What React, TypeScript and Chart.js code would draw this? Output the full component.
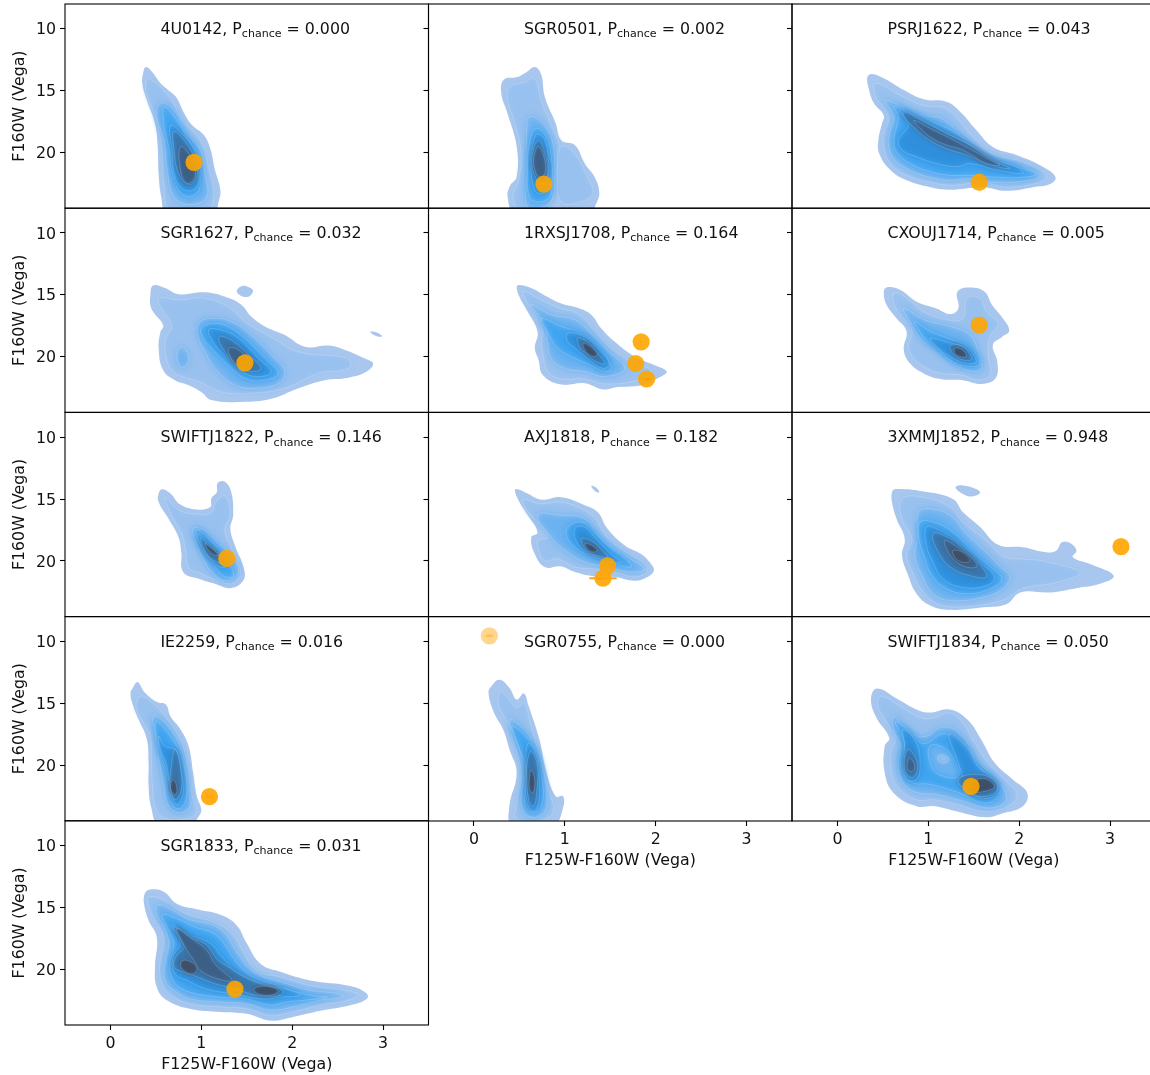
import React, { useEffect, useRef } from "react";
import { Chart, registerables } from "chart.js";

Chart.register(...registerables);

type Contour = [number, number[], number[]];

const xTickValues = [0, 1, 2, 3];
const yTickValues = [10, 15, 20];
const xTitle = "F125W-F160W (Vega)";
const yTitle = "F160W (Vega)";
const xRange = [-0.5, 3.5];
const yRange = [8, 24.5];
const labelAnchor = [0.55, 10];

const names = ["4U0142", "SGR0501", "PSRJ1622", "SGR1627", "1RXSJ1708", "CXOUJ1714", "SWIFTJ1822", "AXJ1818", "3XMMJ1852", "IE2259", "SGR0755", "SWIFTJ1834", "SGR1833"];
const pChance = ["0.000", "0.002", "0.043", "0.032", "0.164", "0.005", "0.146", "0.182", "0.948", "0.016", "0.000", "0.050", "0.031"];

const pointsX = [[0.92], [0.77], [1.56], [1.48], [1.84, 1.78, 1.90], [1.56], [1.28], [1.47, 1.42], [3.12], [1.09], [0.17], [1.47], [1.37]];
const pointsY = [[20.8], [22.55], [22.4], [20.5], [18.8, 20.55, 21.8], [17.45], [19.8], [20.4, 21.4], [18.85], [22.55], [9.55], [21.7], [21.6]];
const pointsErrX = [[0.01], [0.05], [0.02], [0.01], [0.01, 0.02, 0.05], [0.01], [0.01], [0.03, 0.15], [0.01], [0.04], [0.04], [0.01], [0.05]];
const pointAlpha = [0.9, 0.9, 0.9, 0.9, 0.9, 0.9, 0.9, 0.9, 0.9, 0.9, 0.45, 0.9, 0.9];

const levelColors = ["#a9c7ee", "#98c1ef", "#6cb2f0", "#3fa5f1", "#2f8fdc", "#3a74a8", "#3d5f86", "#3e4f68"];

const contours4U0142: Contour[] = [
  [0, [0.39,0.46,0.55,0.66,0.73,0.81,0.90,1.03,1.10,1.15,1.21,1.19,1.14,0.62,0.56,0.53,0.52,0.49,0.40,0.35,0.36], [13.1,13.5,14.4,15.1,15.6,16.8,17.8,18.6,19.7,21.4,23.05,24.0,24.8,24.8,23.6,21.7,19.5,17.65,15.75,14.4,13.6]],
  [1, [0.42,0.66,0.79,0.99,1.08,1.14,1.06,0.66,0.59,0.56,0.51,0.42,0.385], [14.0,15.6,17.4,19.0,21.2,23.3,24.8,24.8,22.8,19.5,17.4,15.75,14.7]],
  [2, [0.55,0.70,0.84,0.99,1.04,1.06,0.88,0.70,0.62,0.59,0.51], [16.0,16.6,18.5,19.8,21.7,23.6,24.2,23.6,21.2,19.0,17.1]],
  [3, [0.59,0.73,0.86,0.97,0.99,0.95,0.82,0.70,0.64,0.59], [16.3,17.4,19.0,20.35,22.2,23.3,23.5,22.2,19.5,17.9]],
  [4, [0.66,0.79,0.92,0.97,0.95,0.82,0.71,0.68], [17.8,18.5,19.8,21.4,22.8,23.05,22.0,19.8]],
  [5, [0.70,0.84,0.93,0.95,0.86,0.75,0.70], [18.3,19.3,20.6,22.0,22.6,21.7,19.8]],
  [6, [0.77,0.90,0.93,0.84,0.77], [19.5,20.6,22.0,22.5,21.4]],
];
const contoursSGR0501: Contour[] = [
  [0, [0.67,0.74,0.78,0.90,0.96,1.11,1.22,1.33,1.38,1.34,1.29,0.45,0.37,0.40,0.47,0.47,0.37,0.30,0.33,0.48,0.58], [13.1,13.7,15.5,17.65,19.0,19.4,20.9,22.0,23.3,24.2,24.8,24.8,23.6,22.65,22.0,19.5,16.85,15.2,14.1,13.9,13.5]],
  [1, [0.67,0.74,0.87,0.94,0.87,0.85,0.78,0.52,0.43,0.49,0.52,0.45,0.37,0.39,0.56], [14.0,15.8,18.1,19.5,22.8,24.1,24.8,24.8,23.6,22.2,20.1,17.65,15.75,14.7,14.3]],
  [1, [0.96,1.11,1.25,1.31,1.22,0.96,0.92], [19.5,20.1,22.0,23.2,23.9,24.0,21.7]],
  [2, [0.61,0.76,0.87,0.88,0.87,0.76,0.59,0.58,0.58,0.58], [17.1,17.65,19.3,21.7,23.6,24.4,24.4,22.2,19.8,18.2]],
  [3, [0.68,0.79,0.85,0.86,0.83,0.72,0.61,0.59,0.61], [18.05,18.7,20.35,22.5,23.6,24.0,23.6,21.2,19.3]],
  [4, [0.70,0.78,0.82,0.81,0.76,0.67,0.63,0.65], [18.5,19.0,20.6,22.2,23.3,23.05,21.2,19.3]],
  [5, [0.71,0.78,0.81,0.74,0.66,0.64], [19.0,20.1,21.7,22.5,21.7,20.35]],
  [6, [0.71,0.78,0.78,0.72,0.67,0.66], [19.5,20.6,21.7,22.0,21.4,20.35]],
];
const contoursPSRJ1622: Contour[] = [
  [0, [0.38,0.51,0.73,0.95,1.20,1.35,1.53,1.71,1.97,2.26,2.40,2.34,2.15,1.86,1.60,1.24,1.02,0.76,0.58,0.46,0.45,0.49,0.51,0.40,0.34,0.33], [13.65,14.0,14.95,15.7,15.9,16.7,18.2,19.55,20.2,21.15,22.0,22.55,22.8,23.1,22.8,23.0,22.8,22.25,21.4,20.1,19.0,17.65,17.0,16.0,14.7,13.9]],
  [1, [0.42,0.73,0.95,1.20,1.49,1.71,2.04,2.30,2.23,1.86,1.60,1.24,1.02,0.76,0.58,0.51,0.51,0.56,0.52,0.42], [14.4,15.5,16.2,16.45,18.7,20.1,20.75,21.85,22.4,22.8,22.45,22.65,22.4,21.85,20.9,19.55,18.45,17.4,16.45,15.5]],
  [2, [0.52,0.73,0.95,1.16,1.46,1.68,2.04,2.23,2.12,1.75,1.46,1.24,1.02,0.80,0.62,0.56,0.58,0.62], [15.8,16.35,17.0,17.3,19.4,20.35,21.15,21.85,22.25,22.4,22.1,22.25,22.0,21.45,20.5,19.3,18.2,17.1]],
  [3, [0.62,0.84,1.09,1.31,1.53,1.75,2.04,2.19,2.04,1.75,1.46,1.24,1.02,0.80,0.65,0.62,0.65,0.67], [16.3,16.85,17.65,18.45,19.8,20.6,21.3,21.75,22.0,22.0,21.85,21.85,21.55,20.9,19.95,19.0,17.9,17.0]],
  [4, [0.69,0.95,1.20,1.42,1.68,1.97,2.04,1.75,1.46,1.31,1.09,0.87,0.71,0.67,0.74,0.78], [16.55,17.4,18.45,19.25,20.5,21.15,21.7,21.4,20.9,21.15,20.9,20.35,19.8,19.0,18.3,17.8]],
  [5, [0.73,0.95,1.20,1.46,1.71,1.90,1.68,1.42,1.20,0.98,0.85,0.74], [16.7,17.5,18.45,19.4,20.6,21.3,21.0,20.2,19.7,18.85,18.05,17.2]],
  [6, [0.84,1.02,1.24,1.42,1.68,1.79,1.64,1.38,1.20,1.04,0.91], [17.4,18.05,18.85,19.55,20.6,21.0,20.9,19.8,19.4,18.85,18.05]],
];
const contoursSGR1627: Contour[] = [
  [0, [0.47,0.60,0.75,1.04,1.30,1.44,1.55,1.70,1.92,2.14,2.40,2.58,2.80,2.89,2.82,2.62,2.36,2.07,1.77,1.44,1.11,1.00,0.86,0.71,0.58,0.53,0.55,0.58,0.45,0.44], [14.25,14.45,14.95,14.8,15.25,15.8,16.75,17.55,18.25,19.2,19.1,19.45,20.15,20.55,21.2,21.7,21.9,22.55,23.4,23.65,23.5,22.85,22.3,21.9,21.1,19.3,18.0,17.45,16.1,15.0]],
  [0, [1.39,1.44,1.53,1.57,1.52,1.43], [14.7,14.3,14.4,14.7,15.15,15.05]],
  [0, [2.86,2.93,2.99,2.93], [18.0,18.05,18.35,18.35]],
  [1, [0.53,0.75,1.04,1.33,1.48,1.77,2.07,2.62,2.62,2.29,1.92,1.55,1.22,0.97,0.75,0.64,0.60,0.67,0.58], [15.27,15.4,15.27,16.1,17.15,18.4,19.6,20.15,20.95,21.35,22.55,22.95,22.85,22.0,21.5,20.7,18.8,17.45,16.35]],
  [2, [0.73,0.78,0.86,0.84,0.77], [19.9,19.2,19.9,20.7,20.85]],
  [2, [0.97,1.11,1.33,1.55,1.81,1.92,1.85,1.59,1.37,1.15,1.04,0.97], [17.3,16.9,17.15,18.25,20.15,21.2,22.15,22.55,22.3,20.95,19.6,18.5]],
  [3, [1.0,1.15,1.33,1.52,1.74,1.85,1.70,1.48,1.30,1.11,1.02], [17.7,17.3,17.7,18.8,20.4,21.35,21.9,21.75,20.7,19.3,18.5]],
  [4, [1.08,1.22,1.41,1.63,1.77,1.66,1.48,1.30,1.15], [17.85,17.85,18.5,20.15,21.2,21.6,21.35,20.15,19.05]],
  [5, [1.19,1.33,1.52,1.66,1.55,1.41,1.26], [18.4,18.65,19.85,20.95,21.2,20.7,19.6]],
  [6, [1.30,1.41,1.53,1.44,1.33], [19.3,19.45,20.55,20.95,20.15]],
];
const contours1RXSJ1708: Contour[] = [
  [0, [0.49,0.63,0.78,0.96,1.14,1.29,1.40,1.55,1.77,1.99,2.12,2.06,1.84,1.58,1.42,1.22,0.96,0.76,0.71,0.67,0.70,0.59,0.50,0.47], [14.2,14.45,15.05,15.7,16.05,16.6,17.7,18.8,20.0,20.7,21.2,21.6,22.3,22.45,22.65,22.15,22.25,21.5,20.25,19.3,18.0,16.35,15.15,14.45]],
  [1, [0.54,0.78,0.96,1.14,1.33,1.47,1.73,1.95,1.80,1.44,1.22,0.96,0.81,0.76,0.74,0.76,0.67,0.58], [14.7,15.55,16.1,16.5,17.85,19.05,20.4,21.1,21.9,22.2,21.8,21.8,21.2,19.85,18.8,17.85,16.6,15.55]],
  [2, [0.63,0.85,1.11,1.29,1.44,1.66,1.44,1.22,1.0,0.85,0.81,0.78], [15.8,16.6,17.0,18.1,19.3,20.95,21.6,21.2,20.95,20.15,18.8,17.45]],
  [3, [0.74,0.96,1.18,1.36,1.51,1.47,1.29,1.07,0.92,0.81], [16.9,17.55,18.1,19.05,20.7,21.2,20.7,20.0,19.3,18.0]],
  [4, [1.03,1.22,1.36,1.49,1.42,1.25,1.11,1.03], [18.1,18.4,19.3,20.55,20.95,20.15,19.3,18.8]],
  [5, [1.14,1.25,1.36,1.44,1.34,1.23,1.16], [18.5,18.8,19.7,20.55,20.4,19.7,19.2]],
  [7, [1.20,1.29,1.36,1.31,1.23], [18.9,19.2,19.85,20.0,19.6]],
];
const contoursCXOUJ1714: Contour[] = [
  [0, [0.54,0.69,0.87,1.09,1.24,1.33,1.32,1.46,1.62,1.70,1.82,1.89,1.81,1.71,1.76,1.74,1.59,1.38,1.13,0.95,0.80,0.73,0.76,0.65,0.54,0.51], [14.4,14.6,15.55,16.1,16.55,16.1,14.75,14.4,14.75,15.8,16.9,17.9,18.4,19.05,20.4,21.75,22.2,21.9,21.8,21.35,20.55,19.45,17.95,16.9,15.8,14.85]],
  [1, [0.62,0.74,0.95,1.21,1.38,1.42,1.57,1.64,1.77,1.68,1.66,1.68,1.53,1.38,1.13,0.95,0.84,0.78,0.82,0.69,0.62], [14.86,15.14,16.35,17.0,16.9,15.27,15.27,16.35,17.3,18.4,19.85,21.5,21.9,21.5,21.35,20.8,20.15,19.2,17.85,16.6,15.7]],
  [2, [0.73,0.95,1.24,1.46,1.55,1.59,1.53,1.31,1.13,0.95,0.84], [16.1,17.0,17.55,18.25,19.6,20.8,21.2,20.7,19.6,18.8,17.7]],
  [3, [0.85,1.02,1.27,1.46,1.57,1.48,1.27,1.09,0.95], [17.15,17.95,18.65,19.3,20.55,20.8,20.4,19.3,18.4]],
  [4, [1.02,1.24,1.42,1.53,1.42,1.24,1.09], [18.5,18.9,19.3,20.4,20.55,20.0,19.2]],
  [5, [1.24,1.38,1.48,1.40,1.27], [19.05,19.2,20.15,20.3,19.75]],
  [7, [1.29,1.38,1.42,1.35,1.29], [19.3,19.45,20.0,20.0,19.75]],
];
const contoursSWIFTJ1822: Contour[] = [
  [0, [0.57,0.66,0.77,0.95,1.10,1.11,1.17,1.18,1.26,1.33,1.35,1.32,1.37,1.47,1.46,1.32,1.15,0.97,0.80,0.78,0.75,0.64,0.53,0.53], [14.2,14.55,15.45,15.85,15.65,14.95,14.45,13.7,13.6,14.45,16.3,17.4,18.75,20.65,21.6,22.2,21.85,21.45,20.9,19.3,18.1,16.6,15.25,14.55]],
  [1, [0.60,0.77,0.97,1.11,1.15,1.26,1.32,1.26,1.32,1.43,1.41,1.30,0.97,0.86,0.82,0.78,0.67], [14.85,15.95,16.2,16.1,15.3,14.75,16.3,17.4,18.75,20.65,21.45,21.85,20.95,20.55,18.95,17.75,16.3]],
  [2, [0.91,1.04,1.19,1.33,1.41,1.26,1.11,1.04,0.97], [17.4,17.55,18.6,19.55,20.9,21.6,20.9,20.1,19.0]],
  [3, [0.95,1.04,1.19,1.30,1.35,1.24,1.11,1.02,0.95], [17.45,17.95,19.0,20.1,21.2,21.2,20.0,19.05,18.1]],
  [4, [0.97,1.08,1.21,1.28,1.21,1.10,1.0], [17.8,18.6,19.45,20.4,20.5,19.85,18.9]],
  [5, [0.99,1.08,1.19,1.24,1.17,1.06], [18.1,18.75,19.45,20.1,20.1,19.45]],
  [7, [1.04,1.13,1.19,1.11], [18.6,19.05,19.55,19.4]],
];
const contoursAXJ1818: Contour[] = [
  [0, [0.48,0.59,0.74,0.96,1.22,1.36,1.47,1.66,1.84,1.95,1.98,1.91,1.77,1.55,1.33,1.11,0.96,0.78,0.67,0.63,0.70,0.59,0.49,0.45], [14.2,14.55,15.05,14.85,15.5,16.05,17.4,18.75,19.45,20.25,20.8,21.3,21.6,21.3,21.25,20.9,20.45,20.5,19.45,18.1,17.7,16.3,15.1,14.3]],
  [0, [1.29,1.34,1.38,1.34], [13.95,14.05,14.45,14.4]],
  [1, [0.54,0.74,0.96,1.22,1.34,1.44,1.62,1.84,1.91,1.77,1.55,1.33,1.11,0.92,0.78,0.72,0.70,0.81,0.70,0.58], [15.03,15.38,15.24,15.92,16.6,17.8,19.03,20.0,20.8,21.3,20.9,20.65,20.5,19.84,20.0,19.3,18.35,18.08,16.86,15.92]],
  [2, [0.70,0.96,1.22,1.40,1.66,1.88,1.73,1.47,1.22,1.0,0.85], [16.3,16.3,16.6,18.2,19.55,20.65,20.9,20.5,20.1,19.15,18.1]],
  [3, [1.03,1.18,1.33,1.47,1.69,1.73,1.55,1.33,1.14,1.03], [17.3,16.85,17.7,18.75,19.95,20.5,20.25,19.7,19.05,18.2]],
  [4, [1.11,1.22,1.36,1.51,1.62,1.47,1.29,1.14], [17.4,17.25,18.35,19.45,20.1,20.0,19.45,18.6]],
  [5, [1.18,1.29,1.40,1.47,1.34,1.23], [18.2,18.35,19.05,19.7,19.55,19.05]],
  [7, [1.22,1.29,1.36,1.31,1.25], [18.6,18.7,19.15,19.3,19.05]],
];
const contours3XMMJ1852: Contour[] = [
  [0, [0.63,0.95,1.27,1.38,1.57,1.77,2.04,2.30,2.41,2.47,2.56,2.63,2.59,2.78,3.04,2.89,2.63,2.34,2.01,1.86,1.60,1.24,1.02,0.87,0.78,0.71,0.74,0.65,0.60,0.60], [14.2,14.4,15.0,16.05,17.25,18.7,18.9,19.3,19.15,18.5,18.55,19.15,19.7,20.25,21.2,21.85,22.2,22.55,22.55,23.5,23.75,23.95,23.6,22.65,21.2,19.55,18.2,16.6,15.25,14.45]],
  [0, [1.30,1.38,1.53,1.57,1.48,1.37], [14.05,13.9,14.2,14.5,14.8,14.55]],
  [1, [0.71,0.95,1.24,1.38,1.64,1.82,2.04,2.26,2.67,2.41,2.04,1.86,1.60,1.24,1.05,0.91,0.82,0.76,0.82,0.71], [15.0,14.85,15.65,16.85,18.35,19.6,19.85,20.0,20.95,21.75,22.25,23.05,23.55,23.7,23.3,22.2,20.85,19.5,18.3,16.6]],
  [2, [0.89,1.02,1.24,1.42,1.64,1.82,1.90,1.82,1.60,1.24,1.05,0.93,0.85,0.89], [16.05,15.8,16.3,17.8,19.3,20.65,21.2,22.25,22.95,23.2,22.65,21.2,19.55,17.95]],
  [3, [0.91,1.05,1.27,1.49,1.71,1.81,1.68,1.42,1.20,1.04,0.95,0.89], [16.85,16.85,17.65,19.3,20.65,21.45,22.25,22.65,22.25,21.2,19.55,17.95]],
  [4, [0.98,1.13,1.35,1.57,1.73,1.64,1.38,1.16,1.05,0.98], [17.25,17.55,18.6,20.1,21.3,22.0,22.15,21.45,20.1,18.75]],
  [5, [1.05,1.24,1.42,1.58,1.64,1.46,1.27,1.13], [17.8,18.2,19.3,20.4,21.3,21.2,20.65,19.55]],
  [6, [1.18,1.35,1.51,1.53,1.38,1.24], [18.35,19.05,20.0,20.5,20.4,19.55]],
  [7, [1.27,1.38,1.46,1.37,1.29], [19.15,19.3,20.0,20.1,19.7]],
];
const contoursIE2259: Contour[] = [
  [0, [0.30,0.38,0.51,0.61,0.66,0.77,0.86,0.91,0.95,1.0,0.97,0.89,0.53,0.45,0.42,0.42,0.40,0.31,0.25,0.22,0.25], [13.3,14.15,14.9,15.1,16.05,17.1,18.45,20.6,22.5,23.6,24.15,24.8,24.8,23.45,21.7,19.8,17.9,16.3,15.2,14.25,13.7]],
  [1, [0.34,0.50,0.60,0.73,0.82,0.86,0.91,0.95,0.86,0.60,0.49,0.46,0.45,0.44,0.34,0.28], [14.4,15.2,16.05,17.4,19.0,20.9,22.85,23.75,24.3,24.3,23.35,21.45,19.3,17.65,16.3,15.2]],
  [2, [0.47,0.60,0.75,0.82,0.86,0.88,0.77,0.64,0.58,0.53,0.49], [16.05,16.55,18.2,20.1,22.25,23.3,23.85,23.3,21.45,19.3,17.4]],
  [3, [0.50,0.60,0.73,0.80,0.84,0.78,0.69,0.64,0.56,0.51], [16.45,17.1,18.45,19.8,22.25,23.45,23.3,21.15,19.3,17.9]],
  [4, [0.53,0.60,0.73,0.78,0.80,0.73,0.67,0.62,0.55], [17.65,18.45,18.85,20.6,22.25,23.2,22.25,20.1,18.75]],
  [5, [0.71,0.77,0.78,0.71,0.66,0.67], [18.7,20.1,22.0,22.8,21.7,20.1]],
  [7, [0.69,0.73,0.72,0.68,0.66], [21.15,21.7,22.4,22.25,21.7]],
];
const contoursSGR0755: Contour[] = [
  [0, [0.28,0.39,0.47,0.55,0.60,0.72,0.80,0.90,0.98,0.98,0.88,0.42,0.39,0.47,0.39,0.32,0.22,0.16,0.19], [13.1,13.75,14.7,14.2,15.2,17.9,20.6,22.5,22.5,23.45,24.8,24.8,23.3,20.6,18.7,17.1,15.75,14.15,13.65]],
  [1, [0.29,0.39,0.47,0.55,0.62,0.72,0.80,0.88,0.77,0.47,0.47,0.52,0.45,0.37,0.27], [14.0,14.7,15.35,14.95,16.55,19.3,21.7,23.6,24.4,24.4,23.05,20.6,18.45,16.55,15.2]],
  [2, [0.39,0.55,0.65,0.75,0.80,0.77,0.60,0.52,0.55,0.50], [16.3,17.1,18.2,20.1,22.25,23.85,24.15,23.05,20.6,18.7]],
  [3, [0.42,0.60,0.70,0.75,0.75,0.65,0.56,0.58,0.49], [16.85,17.9,19.3,21.15,23.05,23.85,23.05,20.6,18.45]],
  [4, [0.60,0.70,0.72,0.71,0.65,0.58,0.57], [18.2,19.55,21.4,23.05,23.75,22.8,20.1]],
  [5, [0.63,0.70,0.69,0.66,0.61,0.58,0.59], [18.85,20.1,22.25,23.3,23.05,20.9,19.55]],
  [7, [0.63,0.67,0.65,0.61,0.61], [20.35,21.15,22.25,21.95,21.0]],
];
const contoursSWIFTJ1834: Contour[] = [
  [0, [0.44,0.67,0.87,1.02,1.23,1.43,1.58,1.73,1.93,2.09,2.04,1.83,1.63,1.33,1.07,0.87,0.62,0.52,0.52,0.57,0.42,0.37], [13.8,14.7,15.5,15.75,15.5,16.3,17.9,19.8,21.15,22.25,23.3,23.85,24.2,23.75,23.3,23.3,22.25,20.6,18.45,17.8,16.05,14.55]],
  [1, [0.48,0.72,0.92,1.07,1.23,1.38,1.50,1.66,1.86,1.98,1.88,1.63,1.33,1.07,0.87,0.67,0.59,0.59,0.64,0.52,0.44], [14.4,15.35,16.15,16.15,15.75,16.55,18.05,19.8,21.3,22.4,23.3,23.75,23.2,22.8,22.8,21.85,20.35,18.7,17.9,16.3,15.2]],
  [2, [0.62,0.77,0.95,1.17,1.38,1.53,1.78,1.86,1.68,1.33,1.07,0.87,0.72,0.67,0.69,0.62], [16.05,17.15,17.7,16.9,17.7,19.55,21.45,22.8,23.45,22.8,22.35,22.2,21.4,19.8,18.45,17.15]],
  [3, [0.64,0.82,0.95,1.17,1.35,1.53,1.76,1.78,1.63,1.33,1.02,0.82,0.72,0.69,0.74], [16.5,17.45,18.25,17.45,18.25,20.0,21.45,22.35,23.05,22.2,21.55,21.4,20.6,19.3,18.25]],
  [2, [1.02,1.17,1.30,1.33,1.12,1.02], [18.45,18.6,19.8,20.9,20.75,19.8]],
  [1, [1.15,1.23,1.15,1.10], [19.15,19.55,19.8,19.4]],
  [4, [0.72,0.87,0.91,0.87,0.77,0.72,0.74], [17.1,18.2,20.1,21.15,21.15,19.8,18.45]],
  [4, [1.23,1.43,1.55,1.71,1.76,1.58,1.43,1.33], [17.45,18.6,20.1,21.15,22.25,22.65,21.7,19.8]],
  [5, [0.77,0.87,0.87,0.81,0.74], [18.7,19.55,20.6,21.0,20.35]],
  [6, [0.79,0.85,0.83,0.77], [19.4,19.95,20.5,20.35]],
  [5, [1.33,1.58,1.76,1.71,1.48], [21.15,20.75,21.55,22.35,22.35]],
  [7, [1.45,1.61,1.73,1.63,1.48], [21.55,21.05,21.7,22.1,22.1]],
];
const contoursSGR1833: Contour[] = [
  [0, [0.44,0.59,0.73,0.95,1.21,1.39,1.50,1.65,1.87,2.20,2.64,2.82,2.82,2.64,2.31,2.01,1.76,1.50,1.21,0.88,0.62,0.51,0.49,0.51,0.42,0.37,0.38], [13.55,13.75,14.7,15.15,15.6,16.45,17.9,19.55,20.2,20.9,21.35,21.95,22.4,22.9,23.35,23.85,24.15,23.6,23.45,23.2,22.5,21.45,19.8,17.4,16.05,14.7,13.85]],
  [1, [0.42,0.62,0.77,1.17,1.34,1.45,1.61,1.87,2.20,2.60,2.73,2.60,2.31,2.01,1.76,1.50,1.21,0.88,0.66,0.57,0.54,0.58,0.49,0.42], [14.15,14.5,15.3,16.3,17.1,18.4,20.15,20.6,21.3,21.7,22.1,22.55,22.9,23.45,23.75,23.2,23.05,22.8,22.1,21.2,19.8,17.4,16.05,14.95]],
  [2, [0.51,0.66,0.84,1.14,1.28,1.39,1.58,1.87,2.20,2.49,2.56,2.31,2.01,1.76,1.50,1.21,0.88,0.70,0.60,0.60,0.64,0.59,0.51], [14.8,15.1,15.9,16.45,17.25,18.6,20.2,21.0,21.7,21.95,22.25,22.5,23.05,23.3,22.8,22.65,22.4,21.7,20.9,19.55,17.9,16.55,15.6]],
  [3, [0.57,0.73,0.92,1.14,1.25,1.36,1.54,1.83,2.20,2.38,2.20,1.94,1.76,1.50,1.21,0.92,0.73,0.66,0.66,0.70,0.64], [15.6,15.9,16.55,17.1,17.9,19.15,20.5,21.3,22.1,22.25,22.45,22.65,22.9,22.4,22.25,21.95,21.3,20.35,19.3,17.9,16.85]],
  [4, [0.68,0.88,1.10,1.23,1.39,1.68,1.98,2.09,1.87,1.68,1.36,1.06,0.84,0.71,0.69,0.77], [16.45,17.25,17.9,19.0,20.2,21.15,21.7,22.1,22.25,22.4,22.0,21.6,20.9,20.35,19.0,17.9]],
  [5, [0.70,0.88,1.06,1.17,1.32,1.47,1.68,1.90,1.87,1.61,1.36,1.14,0.95,0.79,0.70,0.73,0.81], [16.6,17.4,18.05,19.15,19.9,20.6,21.25,21.7,22.1,22.1,21.55,21.15,20.6,20.2,19.8,18.85,18.2]],
  [6, [0.73,0.92,1.06,1.15,1.34,1.17,0.99,0.92,0.84], [16.7,17.65,18.45,19.55,20.9,20.75,20.1,19.3,18.45]],
  [7, [0.79,0.86,0.95,0.92,0.82,0.77], [19.3,19.3,19.8,20.35,20.2,19.7]],
  [7, [1.58,1.72,1.85,1.76,1.61], [21.55,21.35,21.75,22.1,21.95]],
];

const panelContours = [contours4U0142, contoursSGR0501, contoursPSRJ1622, contoursSGR1627, contours1RXSJ1708, contoursCXOUJ1714, contoursSWIFTJ1822, contoursAXJ1818, contours3XMMJ1852, contoursIE2259, contoursSGR0755, contoursSWIFTJ1834, contoursSGR1833];

const FONT = "'DejaVu Sans'";
const FS = 15.8;
const TEXT = "#111";
const COL_LEFT = [0, 363, 727];
const COL_AXIS = [65, 65.5, 65];
const ROW_TOP = [0, 204, 408, 612, 816];
const ROW_PAD = [4, 4.2, 4.4, 4.6, 4.8];
const PLOT_W = 363.5;
const PLOT_H = 204.2;
const LEVEL_BLUR = [0, 2, 3, 3, 3, 2.5, 2, 1.5];

const contourPlugin = {
  id: "contourFill",
  beforeDatasetDraw(chart: any, args: any) {
    const ds = chart.data.datasets[args.index];
    if (ds.level === undefined) return;
    const line = args.meta.dataset;
    if (!line._loop) {
      line._loop = true;
      line._fullLoop = true;
      line._segments = undefined;
      line._pointsUpdated = false;
    }
    line.updateControlPoints(chart.chartArea, chart.options.indexAxis);
    const { ctx, chartArea: a } = chart;
    ctx.save();
    ctx.beginPath();
    ctx.rect(a.left, a.top, a.right - a.left, a.bottom - a.top);
    ctx.clip();
    const blur = LEVEL_BLUR[ds.level];
    if (blur) ctx.filter = `blur(${blur}px)`;
    ctx.beginPath();
    line.path(ctx);
    ctx.closePath();
    ctx.fillStyle = ds.backgroundColor;
    ctx.fill();
    ctx.restore();
  },
};

const framePlugin = {
  id: "frameAndLabel",
  afterDraw(chart: any, _a: any, opts: any) {
    const { ctx, chartArea: a, scales } = chart;
    ctx.save();
    ctx.strokeStyle = "#000";
    ctx.lineWidth = 1.1;
    ctx.strokeRect(a.left, a.top, a.right - a.left, a.bottom - a.top);
    const x = scales.x.getPixelForValue(labelAnchor[0]);
    const y = scales.y.getPixelForValue(labelAnchor[1]) + 5.2;
    ctx.fillStyle = TEXT;
    ctx.textBaseline = "alphabetic";
    ctx.textAlign = "left";
    const main = `${FS}px ${FONT}`;
    const small = `${FS * 0.7}px ${FONT}`;
    ctx.font = main;
    const head = `${opts.name}, P`;
    ctx.fillText(head, x, y);
    let cx = x + ctx.measureText(head).width;
    ctx.font = small;
    ctx.fillText("chance", cx, y + 3.2);
    cx += ctx.measureText("chance").width;
    ctx.font = main;
    ctx.fillText(` = ${opts.p}`, cx, y);
    ctx.restore();
  },
};

const zeroPadding = (s: any) => {
  s.paddingTop = 0;
  s.paddingBottom = 0;
  s.paddingLeft = 0;
  s.paddingRight = 0;
};

function Panel({ index }: { index: number }) {
  const ref = useRef<HTMLCanvasElement>(null);
  const col = index % 3;
  const row = Math.floor(index / 3);
  const hasX = index >= 10;
  const hasY = col === 0;
  const axisH = 50;
  const top = ROW_PAD[row];
  const height = Math.ceil(top + PLOT_H + (hasX ? axisH : 2));
  const width = 431;

  useEffect(() => {
    const contourSets = panelContours[index].map((c, i) => {
      const [level, xs, ys] = c;
      const n = Math.min(xs.length, ys.length);
      return {
        type: "line",
        level,
        order: 500 - i,
        data: xs.slice(0, n).map((x, k) => ({ x, y: ys[k] })),
        backgroundColor: levelColors[level],
        borderColor: "rgba(255,255,255,0.3)",
        borderWidth: level === 0 ? 0 : 0.6,
        tension: 0.42,
        capBezierPoints: false,
        pointRadius: 0,
        fill: false,
      };
    });
    const alpha = pointAlpha[index];
    const errorSets = pointsX[index].map((x, k) => ({
      type: "line",
      order: 2,
      data: [
        { x: x - pointsErrX[index][k], y: pointsY[index][k] },
        { x: x + pointsErrX[index][k], y: pointsY[index][k] },
      ],
      borderColor: `rgba(255,150,0,${alpha})`,
      borderWidth: 2,
      pointRadius: 0,
      fill: false,
    }));
    const pointSet = {
      type: "line",
      order: 1,
      showLine: false,
      data: pointsX[index].map((x, k) => ({ x, y: pointsY[index][k] })),
      pointRadius: 8.6,
      pointBorderWidth: 0,
      pointBackgroundColor: `rgba(255,165,0,${alpha})`,
    };
    const chart = new Chart(ref.current as HTMLCanvasElement, {
      type: "line",
      data: { datasets: [pointSet, ...errorSets, ...contourSets] as any },
      plugins: [contourPlugin, framePlugin],
      options: {
        animation: false,
        responsive: false,
        maintainAspectRatio: false,
        layout: {
          autoPadding: false,
          padding: {
            left: 0,
            top,
            right: width - COL_AXIS[col] - PLOT_W,
            bottom: hasX ? 0 : height - top - PLOT_H,
          },
        },
        plugins: {
          legend: { display: false },
          title: { display: false },
          tooltip: { enabled: false },
          frameAndLabel: { name: names[index], p: pChance[index] },
        } as any,
        scales: {
          x: {
            type: "linear",
            min: xRange[0],
            max: xRange[1],
            display: hasX,
            afterBuildTicks: (s: any) => {
              s.ticks = xTickValues.map((value) => ({ value }));
            },
            afterFit: (s: any) => {
              zeroPadding(s);
              if (hasX) s.height = axisH;
            },
            grid: { drawOnChartArea: false, drawTicks: true, tickLength: 5, tickColor: "#000", tickWidth: 1.1 },
            border: { display: false },
            ticks: { color: TEXT, padding: 4, maxRotation: 0, autoSkip: false, font: { family: FONT, size: FS }, callback: (v: any) => String(v) },
            title: { display: hasX, text: xTitle, color: TEXT, font: { family: FONT, size: FS }, padding: { top: 0, bottom: 1 } },
          },
          y: {
            type: "linear",
            reverse: true,
            min: yRange[0],
            max: yRange[1],
            afterBuildTicks: (s: any) => {
              s.ticks = yTickValues.map((value) => ({ value }));
            },
            afterFit: (s: any) => {
              zeroPadding(s);
              s.width = COL_AXIS[col];
            },
            grid: { drawOnChartArea: false, drawTicks: true, tickLength: 5, tickColor: "#000", tickWidth: 1.1 },
            border: { display: false },
            ticks: { display: hasY, color: TEXT, padding: 4, labelOffset: 1.5, autoSkip: false, font: { family: FONT, size: FS }, callback: (v: any) => String(v) },
            title: { display: hasY, text: yTitle, color: TEXT, font: { family: FONT, size: FS }, padding: { top: 10, bottom: 0 } },
          },
        },
      } as any,
    } as any);
    return () => chart.destroy();
  }, []);

  return (
    <canvas
      ref={ref}
      width={width}
      height={height}
      style={{ position: "absolute", left: COL_LEFT[col], top: ROW_TOP[row], width, height, display: "block" }}
    />
  );
}

export default function App() {
  return (
    <div style={{ position: "absolute", left: 0, top: 0, width: 1150, height: 1075, overflow: "hidden", background: "#fff" }}>
      {names.map((n, i) => (
        <Panel key={n} index={i} />
      ))}
    </div>
  );
}
